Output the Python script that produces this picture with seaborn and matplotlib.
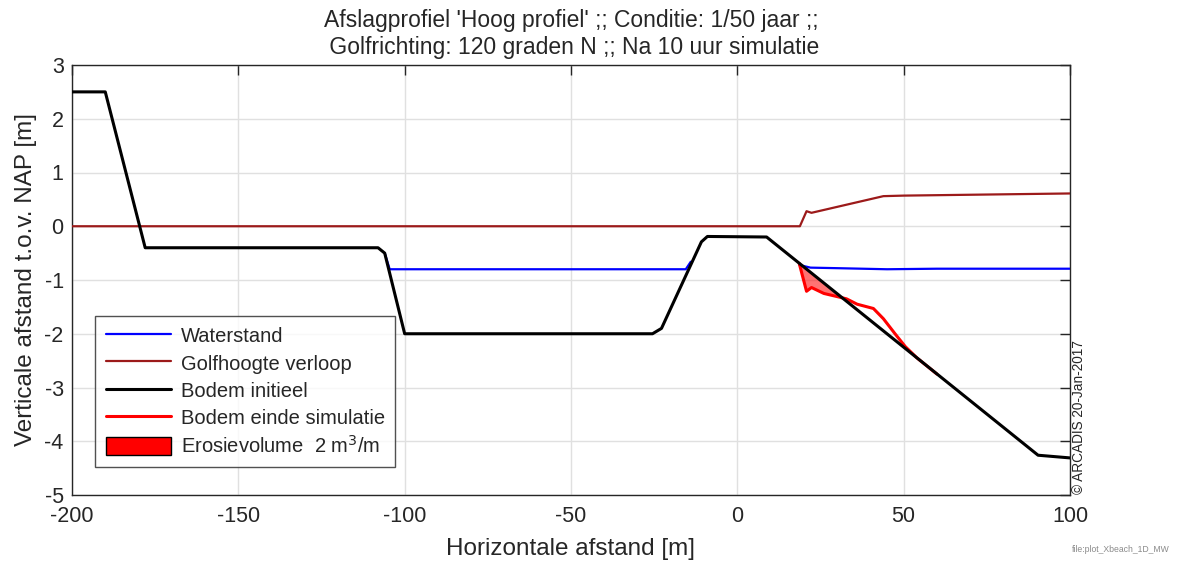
import numpy as np
import pandas as pd
import matplotlib
matplotlib.use("Agg")
import matplotlib.pyplot as plt
import seaborn as sns
from matplotlib.patches import Patch
from matplotlib.lines import Line2D

# Initial bed profile (cross-shore distance, level w.r.t. NAP)
bed_x = [-200, -190, -178, -108, -106, -100, -25.5, -22.8, -10.8, -9.0, 8.8, 90.4, 100]
bed_z = [2.5, 2.5, -0.4, -0.4, -0.5, -2.0, -2.0, -1.9, -0.29, -0.19, -0.2, -4.26, -4.31]

# Water level (only where wet)
water_x = [-106, -104.5, -15.5, -14.0, np.nan, 18.6, 22, 30, 45, 60, 100]
water_z = [-0.5, -0.8, -0.8, -0.66, np.nan, -0.72, -0.77, -0.78, -0.80, -0.79, -0.79]

# Wave height along the profile
wave_x = [-200, 18.8, 20.8, 22.3, 43.9, 50, 100]
wave_h = [0.0, 0.0, 0.28, 0.25, 0.56, 0.57, 0.61]

# Bed at end of simulation (section that differs from the initial profile)
final_x = [18.6, 20.8, 22.3, 26.0, 32.8, 36.0, 40.9, 43.9, 47.4, 50.5, 54.0, 60.0]
final_z = [-0.69, -1.21, -1.14, -1.25, -1.35, -1.45, -1.53, -1.72, -2.0, -2.24, -2.45, -2.75]

title_lines = ["Afslagprofiel 'Hoog profiel' ;; Conditie: 1/50 jaar ;;",
               " Golfrichting: 120 graden N ;; Na 10 uur simulatie"]
x_ticks = [-200, -150, -100, -50, 0, 50, 100]
y_ticks = [-5, -4, -3, -2, -1, 0, 1, 2, 3]

sns.set_theme(style="white")
plt.rcParams['font.family'] = ['Liberation Sans', 'DejaVu Sans']

bed = pd.DataFrame({"x": bed_x, "z": bed_z})
wave = pd.DataFrame({"x": wave_x, "h": wave_h})
final = pd.DataFrame({"x": final_x, "z": final_z})

TXT = "#262626"
fig = plt.figure(figsize=(11.81, 5.64), dpi=100)
ax = fig.add_axes([72 / 1181, 1 - 495 / 564, (1070 - 72) / 1181, (495 - 65) / 564])

# Erosion area: where the final bed lies below the initial one
init_on_final = np.interp(final_x, bed_x, bed_z)
ax.fill_between(final_x, final_z, init_on_final,
                where=np.array(final_z) <= init_on_final + 1e-9,
                interpolate=True, color="#ff0000", alpha=0.55, lw=0, zorder=2)

ax.plot(water_x, water_z, color="#0000ff", lw=1.6, zorder=3)
sns.lineplot(data=wave, x="x", y="h", ax=ax, color="#9c1a1a", lw=1.6,
             sort=False, estimator=None, zorder=3)
sns.lineplot(data=final, x="x", y="z", ax=ax, color="#ff0000", lw=2.2,
             sort=False, estimator=None, zorder=4)
sns.lineplot(data=bed, x="x", y="z", ax=ax, color="black", lw=2.2,
             sort=False, estimator=None, zorder=5)

ax.set_xlim(-200, 100)
ax.set_ylim(-5, 3)
ax.set_xticks(x_ticks)
ax.set_yticks(y_ticks)
ax.set_xticklabels([str(t) for t in x_ticks])
ax.set_yticklabels([str(t) for t in y_ticks])
ax.tick_params(direction="in", length=7, width=1, top=True, right=True,
               labelsize=15.5, colors=TXT, pad=6)
ax.tick_params(axis="x", pad=8)
ax.grid(True, color="#e0e0e0", lw=1)
for s in ax.spines.values():
    s.set_color(TXT)
    s.set_linewidth(1)

ax.set_xlabel("Horizontale afstand [m]", fontsize=17.5, color=TXT, labelpad=8)
ax.set_ylabel("Verticale afstand t.o.v. NAP [m]", fontsize=17.5, color=TXT, labelpad=5)
ax.set_title("\n".join(title_lines), fontsize=16.5, color=TXT, pad=8, linespacing=1.2)

handles = [
    Line2D([], [], color="#0000ff", lw=1.6),
    Line2D([], [], color="#9c1a1a", lw=1.6),
    Line2D([], [], color="black", lw=2.2),
    Line2D([], [], color="#ff0000", lw=2.2),
    Patch(facecolor="#ff0000", edgecolor="black", lw=1),
]
labels = ["Waterstand", "Golfhoogte verloop", "Bodem initieel",
          "Bodem einde simulatie", r"Erosievolume  2 m$^3$/m"]
leg = ax.legend(handles, labels, loc="lower left", bbox_to_anchor=(0.0235, 0.065),
                fontsize=14.5, frameon=True, fancybox=False, handlelength=3.25,
                handleheight=1.05, handletextpad=0.5, labelspacing=0.35,
                borderpad=0.5, borderaxespad=0)
leg.get_frame().set_edgecolor(TXT)
leg.get_frame().set_linewidth(1)
for t in leg.get_texts():
    t.set_color(TXT)

fig.text(1079 / 1181, 1 - 494 / 564, "\u00a9 ARCADIS 20-Jan-2017", rotation=90,
         fontsize=9.8, color=TXT, ha="center", va="bottom")
fig.text(1170 / 1181, 1 - 549 / 564, "file:plot_Xbeach_1D_MW", fontsize=6.2,
         color="#8a8a8a", ha="right", va="center")

fig.savefig("out.png", dpi=100, facecolor="white")
